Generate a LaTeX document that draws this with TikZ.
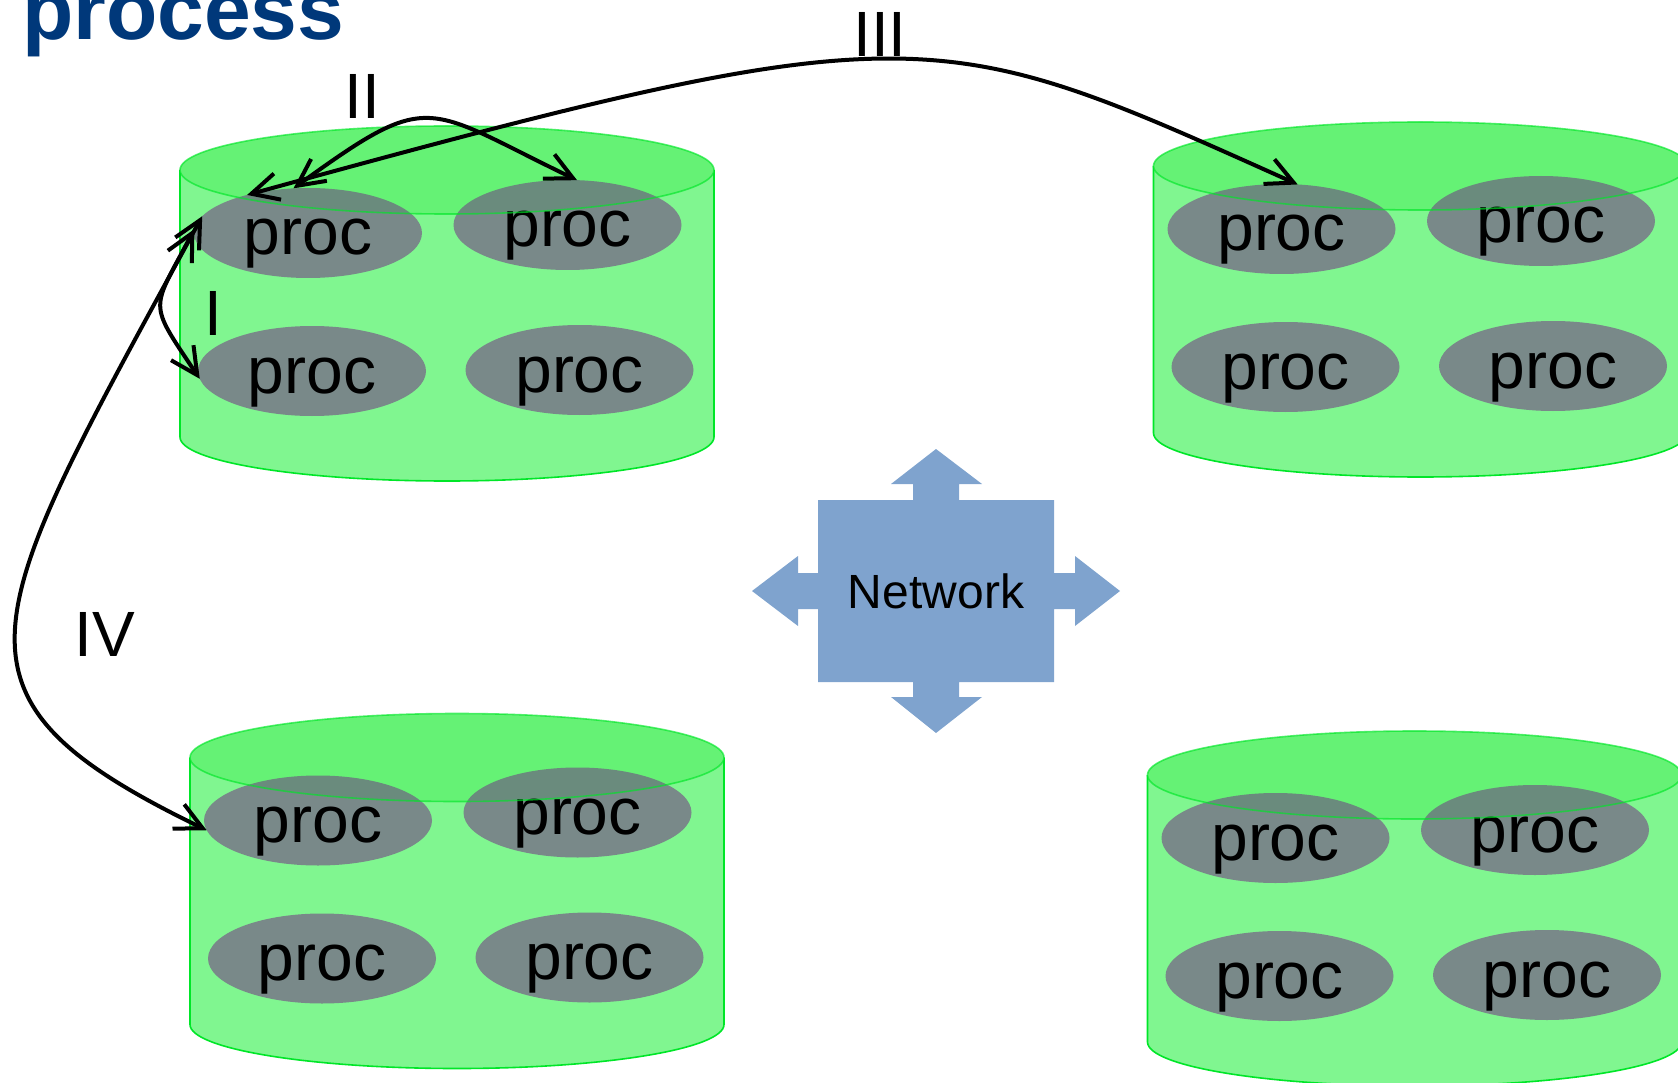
\documentclass[tikz,border=0pt]{standalone}
\usepackage{fontspec}
\setmainfont{Liberation Sans}
\usetikzlibrary{arrows.meta,shapes.geometric}

\definecolor{procgray}{RGB}{121,137,137}
\definecolor{sidegreen}{RGB}{128,246,144}
\definecolor{topgreen}{RGB}{116,254,128}
\definecolor{edgegreen}{RGB}{0,230,40}
\definecolor{tintgreen}{RGB}{0,160,40}
\definecolor{netblue}{RGB}{127,163,206}
\definecolor{titleblue}{RGB}{0,56,122}

\tikzset{
  cylbody/.style={fill=sidegreen, draw=edgegreen, line width=1.6pt},
  cyltop/.style={fill=topgreen},
  cylcover/.style={fill=tintgreen, fill opacity=0.12, draw=edgegreen, draw opacity=0.65, line width=1.6pt},
  proc/.style={ellipse, fill=procgray, minimum width=228pt, minimum height=90pt,
    inner sep=0pt, outer sep=0pt, font=\fontsize{66}{70}\selectfont,
    text height=44pt, text depth=0pt},
  lbl/.style={anchor=base, inner sep=0pt, font=\fontsize{64}{70}\selectfont},
  conn/.style={line width=4pt, <->, >={Straight Barb[length=27pt,width=27pt]}},
  netshape/.style={fill=netblue}
}

% cylinder: #1 name prefix, #2 left edge, #3 centre y of the top face
\newcommand\nodecylinder[3]{%
  \begin{scope}[shift={(#2,#3)}]
    \filldraw[cylbody] (0,0) -- (0,267)
      arc[start angle=180, end angle=0, x radius=267, y radius=44] -- (534,0);
    \fill[cyltop] (267,0) ellipse [x radius=267, y radius=44];
  \end{scope}
  \node[proc] (#1-1) at (#2+128,#3+63) {proc};
  \node[proc] (#1-2) at (#2+387.5,#3+55) {proc};
  \node[proc] (#1-3) at (#2+132,#3+201) {proc};
  \node[proc] (#1-4) at (#2+399.5,#3+200) {proc};
  \begin{scope}[shift={(#2,#3)}]
    \filldraw[cylcover] (267,0) ellipse [x radius=267, y radius=44];
  \end{scope}
}

\begin{document}
\begin{tikzpicture}[x=1pt, y=-1pt]
  \clip (0,0) rectangle (1678,1083);

  % heading
  \node[anchor=base west, inner sep=0pt, text=titleblue,
        font=\fontsize{84}{90}\selectfont\bfseries] (title) at (22,40) {process};

  % the four machines
  \nodecylinder{tl}{180}{170}
  \nodecylinder{tr}{1153.5}{166}
  \nodecylinder{bl}{190}{757.5}
  \nodecylinder{br}{1147.5}{775}

  % network symbol: box with four arrows
  \fill[netshape] (936,449) -- (982,484) -- (959,484) -- (959,500) -- (1054,500)
    -- (1054,573) -- (1075,573) -- (1075,556) -- (1120,591) -- (1075,626)
    -- (1075,609) -- (1054,609) -- (1054,682) -- (959,682) -- (959,697)
    -- (982,697) -- (936,733) -- (891,697) -- (913,697) -- (913,682)
    -- (818,682) -- (818,609) -- (798,609) -- (798,626) -- (752,591)
    -- (798,556) -- (798,573) -- (818,573) -- (818,500) -- (913,500)
    -- (913,484) -- (891,484) -- cycle;
  \node[inner sep=0pt, font=\fontsize{48}{52}\selectfont] (net) at (936,591) {Network};

  % communication paths
  \draw[conn] (tl-1.178) .. controls (151,312) and (147,300) .. (tl-3.184);
  \draw[conn] (tl-1.108) .. controls (432,88) and (423,106) .. (tl-2.78);
  \draw[conn] (tl-1.148) .. controls (923,9) and (935,22) .. (tr-1.70);
  \draw[conn] (tl-1.171) .. controls (-21,626) and (-72,695) .. (bl-1.185);

  % path labels
  \node[lbl] (lab1) at (213.5,335) {I};
  \node[lbl] (lab2) at (362.5,119) {II};
  \node[lbl] (lab3) at (880,57) {III};
  \node[lbl] (lab4) at (105,656) {IV};
\end{tikzpicture}
\end{document}
